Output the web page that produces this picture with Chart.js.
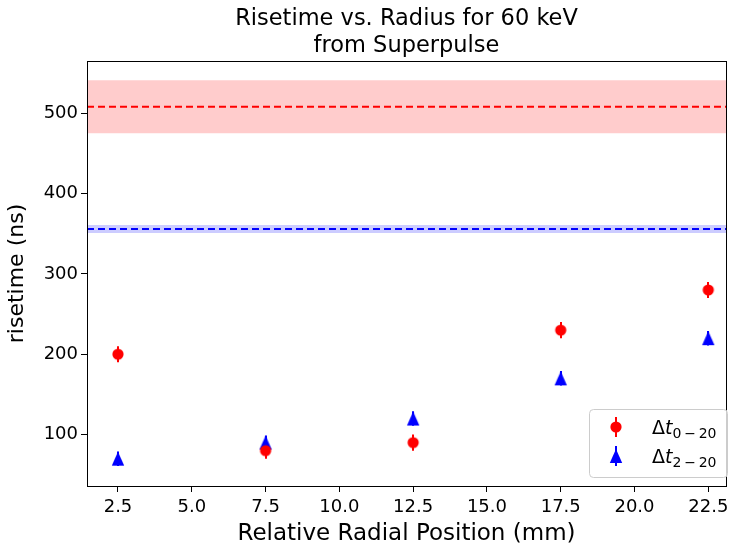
<!DOCTYPE html>
<html>
<head>
<meta charset="utf-8">
<script src="https://cdn.jsdelivr.net/npm/chart.js@4.4.0/dist/chart.umd.min.js"></script>
<style>
  html, body { margin: 0; padding: 0; background: #fff; }
  #wrap { width: 731px; height: 543px; }
</style>
</head>
<body>
<div id="wrap"><canvas id="chartCanvas" width="731" height="543"></canvas></div>
<script>
// data
const radius = [2.5, 7.5, 12.5, 17.5, 22.5];
const rise0to20 = [200, 80, 90, 230, 280];
const err0to20 = [10, 10, 10, 10, 10];
const rise2to20 = [70, 90, 120, 170, 220];
const err2to20 = [9, 9, 9, 9, 9];
const superpulse0to20 = 508;
const superpulse0to20Band = [475, 541];
const superpulse2to20 = 356;
const superpulse2to20Band = [351, 361];
const xTicks = [2.5, 5.0, 7.5, 10.0, 12.5, 15.0, 17.5, 20.0, 22.5];
const yTicks = [100, 200, 300, 400, 500];
const xRange = [1.45, 23.1];
const yRange = [36, 565];

const FONT = "'DejaVu Sans', sans-serif";
Chart.defaults.font.family = FONT;
Chart.defaults.color = "#000";

const toPts = (xs, ys) => xs.map((x, i) => ({ x: x, y: ys[i] }));
const hline = (v) => [{ x: xRange[0], y: v }, { x: xRange[1], y: v }];

// matplotlib style markers
function markerImage(kind, col) {
  const c = document.createElement("canvas");
  c.width = 14; c.height = 16;
  const g = c.getContext("2d");
  g.fillStyle = col;
  g.beginPath();
  if (kind === "circle") {
    g.arc(7, 8, 5.6, 0, Math.PI * 2);
  } else {
    g.moveTo(7, 1);
    g.lineTo(13.2, 15);
    g.lineTo(0.8, 15);
    g.closePath();
  }
  g.fill();
  return c;
}
const redDot = markerImage("circle", "#ff0000");
const blueTri = markerImage("triangle", "#0000ff");

const errorBars = {
  id: "errorBars",
  beforeDatasetsDraw(chart) {
    const { ctx, scales: { x, y } } = chart;
    const sets = [[rise0to20, err0to20, "#ff0000"], [rise2to20, err2to20, "#0000ff"]];
    ctx.save();
    ctx.lineWidth = 2;
    sets.forEach(([vals, errs, col]) => {
      ctx.strokeStyle = col;
      vals.forEach((v, i) => {
        const px = Math.round(x.getPixelForValue(radius[i]));
        ctx.beginPath();
        ctx.moveTo(px, y.getPixelForValue(v - errs[i]));
        ctx.lineTo(px, y.getPixelForValue(v + errs[i]));
        ctx.stroke();
      });
    });
    ctx.restore();
  }
};

const frameAndLegend = {
  id: "frameAndLegend",
  afterDraw(chart) {
    const { ctx, chartArea: a } = chart;
    ctx.save();
    ctx.strokeStyle = "#000";
    ctx.lineWidth = 1;
    ctx.strokeRect(a.left + 0.5, a.top + 0.5, a.right - a.left, a.bottom - a.top);

    // legend box, lower right
    const bx = 589, by = 409, bw = 138, bh = 68;
    ctx.fillStyle = "rgba(255,255,255,0.8)";
    ctx.strokeStyle = "#cccccc";
    ctx.beginPath();
    ctx.roundRect(bx + 0.5, by + 0.5, bw, bh, 4);
    ctx.fill();
    ctx.stroke();

    const rows = [
      { y: 427, col: "#ff0000", img: redDot, sub: "0\u2009\u2212\u200920" },
      { y: 456, col: "#0000ff", img: blueTri, sub: "2\u2009\u2212\u200920" }
    ];
    rows.forEach(r => {
      const mx = 616;
      ctx.strokeStyle = r.col;
      ctx.lineWidth = 2;
      ctx.beginPath();
      ctx.moveTo(mx, r.y - 10);
      ctx.lineTo(mx, r.y + 10);
      ctx.stroke();
      ctx.drawImage(r.img, mx - 7, r.y - 8);

      ctx.fillStyle = "#000";
      ctx.textBaseline = "alphabetic";
      let tx = 652;
      ctx.font = "19px " + FONT;
      ctx.fillText("\u0394", tx, r.y + 7);
      tx += ctx.measureText("\u0394").width;
      ctx.font = "italic 19px " + FONT;
      ctx.fillText("t", tx, r.y + 7);
      tx += ctx.measureText("t").width;
      ctx.font = "14px " + FONT;
      ctx.fillText(r.sub, tx, r.y + 11);
    });
    ctx.restore();
  }
};

const ctx = document.getElementById("chartCanvas").getContext("2d");
new Chart(ctx, {
  type: "scatter",
  data: {
    datasets: [
      { data: hline(superpulse0to20Band[0]), showLine: true, pointRadius: 0, borderWidth: 0, borderColor: "rgba(0,0,0,0)", fill: false },
      { data: hline(superpulse0to20Band[1]), showLine: true, pointRadius: 0, borderWidth: 0, borderColor: "rgba(0,0,0,0)", fill: "-1", backgroundColor: "rgba(255,0,0,0.2)" },
      { data: hline(superpulse2to20Band[0]), showLine: true, pointRadius: 0, borderWidth: 0, borderColor: "rgba(0,0,0,0)", fill: false },
      { data: hline(superpulse2to20Band[1]), showLine: true, pointRadius: 0, borderWidth: 0, borderColor: "rgba(0,0,0,0)", fill: "-1", backgroundColor: "rgba(0,0,255,0.2)" },
      { data: hline(superpulse0to20), showLine: true, pointRadius: 0, borderWidth: 2, borderColor: "#ff0000", borderDash: [7, 4] },
      { data: hline(superpulse2to20), showLine: true, pointRadius: 0, borderWidth: 2, borderColor: "#0000ff", borderDash: [7, 4] },
      { data: toPts(radius, rise0to20), pointStyle: redDot },
      { data: toPts(radius, rise2to20), pointStyle: blueTri }
    ]
  },
  options: {
    responsive: false,
    animation: false,
    layout: { padding: 0 },
    plugins: {
      legend: { display: false },
      tooltip: { enabled: false },
      title: {
        display: true,
        fullSize: false,
        text: ["Risetime vs. Radius for 60 keV", "from Superpulse"],
        font: { size: 22.5, weight: "normal" },
        lineHeight: 1.12,
        padding: { top: 6, bottom: 1 }
      }
    },
    scales: {
      x: {
        type: "linear",
        min: xRange[0],
        max: xRange[1],
        afterBuildTicks: s => { s.ticks = xTicks.map(v => ({ value: v })); },
        afterFit: s => { s.height = 57; s.paddingLeft = 0; s.paddingRight = 0; },
        ticks: { font: { size: 18 }, maxRotation: 0, padding: 5, callback: v => v.toFixed(1) },
        grid: { display: true, drawOnChartArea: false, tickLength: 6, color: "#000" },
        border: { display: true, color: "#000" },
        title: { display: true, text: "Relative Radial Position (mm)", font: { size: 23, lineHeight: 0.8 }, padding: { top: 0, bottom: 0 } }
      },
      y: {
        type: "linear",
        min: yRange[0],
        max: yRange[1],
        afterBuildTicks: s => { s.ticks = yTicks.map(v => ({ value: v })); },
        afterFit: s => { s.width = 87; s.paddingTop = 0; s.paddingBottom = 0; },
        ticks: { font: { size: 18 }, padding: 3 },
        grid: { display: true, drawOnChartArea: false, tickLength: 6, color: "#000" },
        border: { display: true, color: "#000" },
        title: { display: true, text: "risetime (ns)", font: { size: 22 }, padding: { top: 4, bottom: 0 } }
      }
    }
  },
  plugins: [errorBars, frameAndLegend]
});
</script>
</body>
</html>
